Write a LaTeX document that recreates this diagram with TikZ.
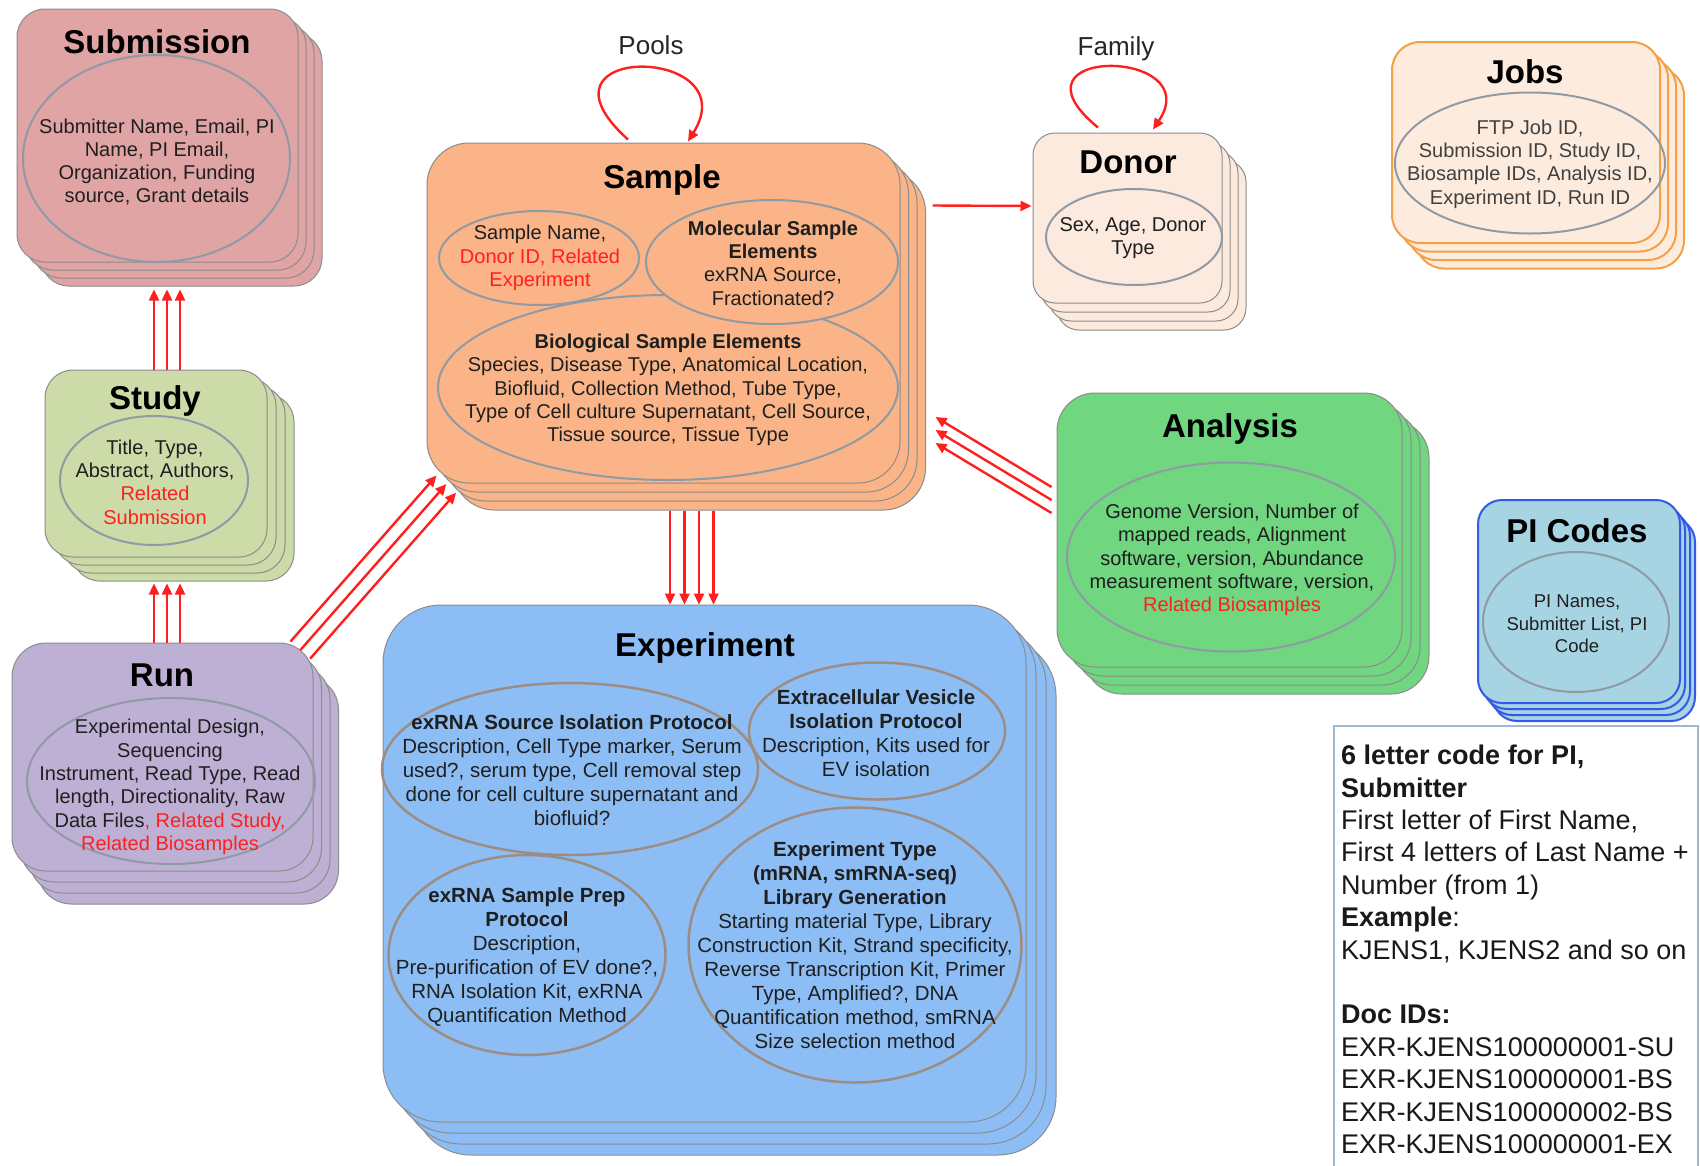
\documentclass[tikz,border=0pt]{standalone}
\usepackage{fontspec}
\setmainfont{Liberation Sans}
\usetikzlibrary{shapes.geometric,arrows.meta,calc}

\definecolor{subpink}{HTML}{E0A4A4}
\definecolor{studygreen}{HTML}{CCDBA8}
\definecolor{runlilac}{HTML}{BEB0D4}
\definecolor{sampleorange}{HTML}{FAB487}
\definecolor{donorpeach}{HTML}{FCEADE}
\definecolor{jobspeach}{HTML}{FDECDE}
\definecolor{jobsline}{HTML}{F5A046}
\definecolor{analysisgreen}{HTML}{70D680}
\definecolor{picyan}{HTML}{A6D4E2}
\definecolor{piblue}{HTML}{325AE6}
\definecolor{expblue}{HTML}{8CBEF5}
\definecolor{ovalgray}{HTML}{8F9AA5}
\definecolor{ovalbrown}{HTML}{9C8C84}
\definecolor{linkred}{HTML}{FF1F1F}
\definecolor{boxblue}{HTML}{9DB7D5}

\newcommand\redtxt[1]{\textcolor{linkred}{#1}}

% a card with three copies stacked behind it
\newcommand\cardstack[8]{%
  \foreach \k in {3,2,1}
    \node[card,#6,minimum width={#4-#2},minimum height={#5-#3}]
      (#1-\k) at ({(#2+#4)/2+\k*#7},{(#3+#5)/2+\k*#8}) {};
  \node[card,#6,minimum width={#4-#2},minimum height={#5-#3}]
    (#1) at ({(#2+#4)/2},{(#3+#5)/2}) {};
}

\tikzset{
  card/.style={draw=black!45, line width=1pt, inner sep=0pt},
  cardtitle/.style={font=\fontsize{33}{36}\selectfont\bfseries, anchor=base, inner sep=0pt},
  body/.style={font=\fontsize{20}{23.3}\selectfont, align=center, text=black!88, inner sep=0pt},
  oval/.style={ellipse, draw=ovalgray, line width=2pt, inner sep=0pt},
  expoval/.style={ellipse, draw=ovalbrown, line width=2.5pt, inner sep=0pt},
  looplabel/.style={font=\fontsize{26}{30}\selectfont, anchor=base, inner sep=0pt, text=black!85},
  link/.style={draw=linkred, line width=2.4pt, -{Triangle[length=11pt,width=10pt]}},
}

\begin{document}
\begin{tikzpicture}[x=1pt,y=-1pt]
\useasboundingbox (0,0) rectangle (1700,1165);
\fill[white] (0,0) rectangle (1700,1165);

% cards
\cardstack{submission}{17}{9}{298}{262}{fill=subpink,rounded corners=28pt}{8}{8}
\cardstack{study}{45}{370}{267}{557}{fill=studygreen,rounded corners=28pt}{9}{8}
\cardstack{run}{12}{643}{313}{871}{fill=runlilac,rounded corners=34pt}{8.5}{11}
\cardstack{sample}{427}{143}{900}{483}{fill=sampleorange,rounded corners=42pt}{8.5}{9}
\cardstack{donor}{1033}{133}{1222}{303}{fill=donorpeach,rounded corners=22pt}{8}{9}
\cardstack{jobs}{1392}{42}{1660}{243}{fill=jobspeach,draw=jobsline,line width=2pt,rounded corners=28pt}{8}{8.5}
\cardstack{analysis}{1057}{393}{1402}{667}{fill=analysisgreen,rounded corners=38pt}{9}{9}
\cardstack{picodes}{1478}{500}{1680}{703}{fill=picyan,draw=piblue,line width=2pt,rounded corners=24pt}{5}{6}
\cardstack{experiment}{383}{605}{1026}{1122}{fill=expblue,rounded corners=58pt}{10}{11}

% titles
\node[cardtitle] (submission-head) at (157,53) {Submission};
\node[cardtitle] (study-head) at (155,409) {Study};
\node[cardtitle] (run-head) at (162,686) {Run};
\node[cardtitle] (sample-head) at (662,188) {Sample};
\node[cardtitle] (donor-head) at (1128,173) {Donor};
\node[cardtitle] (jobs-head) at (1525,83) {Jobs};
\node[cardtitle] (analysis-head) at (1230,437) {Analysis};
\node[cardtitle] (picodes-head) at (1577,542) {PI Codes};
\node[cardtitle] (experiment-head) at (705,656) {Experiment};

% ovals
\node[oval, minimum width=267, minimum height=207] (submission-oval) at (156.5,158.5) {};
\node[oval, minimum width=188, minimum height=129] (study-oval) at (154,480.5) {};
\node[oval, minimum width=288, minimum height=166] (run-oval) at (171,781) {};
\node[oval, minimum width=460, minimum height=185] (bio-oval) at (668,387.5) {};
\node[oval, fill=sampleorange, minimum width=200, minimum height=94] (name-oval) at (539,258) {};
\node[oval, fill=sampleorange, minimum width=252, minimum height=124] (mol-oval) at (772,262) {};
\node[oval, minimum width=176, minimum height=96] (donor-oval) at (1134,237) {};
\node[oval, minimum width=270, minimum height=141] (jobs-oval) at (1530,163) {};
\node[oval, minimum width=328, minimum height=189] (analysis-oval) at (1231,557) {};
\node[oval, minimum width=186, minimum height=140] (picodes-oval) at (1576,622) {};
\node[expoval, minimum width=376, minimum height=172] (source-oval) at (570,769) {};
\node[expoval, minimum width=256, minimum height=137] (vesicle-oval) at (877,731) {};
\node[expoval, minimum width=277, minimum height=200] (prep-oval) at (527,955) {};
\node[expoval, minimum width=333, minimum height=275] (type-oval) at (855,945) {};

% texts
\node[body] (submission-text) at (157,162) {Submitter Name, Email, PI\\Name, PI Email,\\Organization, Funding\\source, Grant details};
\node[body] (study-text) at (155,482) {Title, Type,\\Abstract, Authors,\\\redtxt{Related}\\\redtxt{Submission}};
\node[body] (run-text) at (170,787) {Experimental Design,\\Sequencing\\Instrument, Read Type, Read\\length, Directionality, Raw\\Data Files\redtxt{, Related Study,}\\\redtxt{Related Biosamples}};
\node[body] (name-text) at (540,258) {Sample Name,\\\redtxt{Donor ID, Related}\\\redtxt{Experiment}};
\node[body] (mol-text) at (773,263) {\textbf{Molecular Sample}\\\textbf{Elements}\\exRNA Source,\\Fractionated?};
\node[body] (bio-text) at (668,390) {\textbf{Biological Sample Elements}\\Species, Disease Type, Anatomical Location,\\Biofluid, Collection Method, Tube Type,\\Type of Cell culture Supernatant, Cell Source,\\Tissue source, Tissue Type};
\node[body] (donor-text) at (1133,238) {Sex, Age, Donor\\Type};
\node[body, text=black!75] (jobs-text) at (1530,164) {FTP Job ID,\\Submission ID, Study ID,\\Biosample IDs, Analysis ID,\\Experiment ID, Run ID};
\node[body] (analysis-text) at (1232,560) {Genome Version, Number of\\mapped reads, Alignment\\software, version, Abundance\\measurement software, version,\\\redtxt{Related Biosamples}};
\node[body, font=\fontsize{18.5}{22.5}\selectfont] (picodes-text) at (1577,624) {PI Names,\\Submitter List, PI\\Code};
\node[body, font=\fontsize{20.5}{24}\selectfont] (source-text) at (572,770) {\textbf{exRNA Source Isolation Protocol}\\Description, Cell Type marker, Serum\\used?, serum type, Cell removal step\\done for cell culture supernatant and\\biofluid?};
\node[body, font=\fontsize{20.5}{24}\selectfont] (vesicle-text) at (876,733) {\textbf{Extracellular Vesicle}\\\textbf{Isolation Protocol}\\Description, Kits used for\\EV isolation};
\node[body, font=\fontsize{20.5}{24}\selectfont] (prep-text) at (527,957) {\textbf{exRNA Sample Prep}\\\textbf{Protocol}\\Description,\\Pre-purification of EV done?,\\RNA Isolation Kit, exRNA\\Quantification Method};
\node[body, font=\fontsize{20.5}{24}\selectfont] (type-text) at (855,945) {\textbf{Experiment Type}\\\textbf{(mRNA, smRNA-seq)}\\\textbf{Library Generation}\\Starting material Type, Library\\Construction Kit, Strand specificity,\\Reverse Transcription Kit, Primer\\Type, Amplified?, DNA\\Quantification method, smRNA\\Size selection method};

% code box
\node[draw=boxblue, line width=1.5pt, anchor=north west, minimum width=364, minimum height=445, inner sep=0pt] (codebox) at (1333,725) {};
\node[anchor=north west, align=left, inner sep=0pt, font=\fontsize{27}{32.4}\selectfont, text=black!90] (code-text) at ($(codebox.north west)+(8,20)$)
  {\textbf{6 letter code for PI,}\\\textbf{Submitter}\\First letter of First Name,\\First 4 letters of Last Name +\\Number (from 1)\\\textbf{Example}:\\KJENS1, KJENS2 and so on\\[32.4pt]\textbf{Doc IDs:}\\EXR-KJENS100000001-SU\\EXR-KJENS100000001-BS\\EXR-KJENS100000002-BS\\EXR-KJENS100000001-EX};

% self loops
\node[looplabel] (pools) at (651,54) {Pools};
\node[looplabel] (family) at (1116,55) {Family};
\coordinate (pools-out) at ($(sample.north)+(-35.5,-3)$);
\coordinate (pools-in) at ($(sample.north)+(24.5,-1)$);
\draw[link] (pools-out) .. controls +(-108,-97) and +(60,-97) .. (pools-in);
\coordinate (family-out) at ($(donor.north)+(-29.5,-5)$);
\coordinate (family-in) at ($(donor.north)+(25.5,-3)$);
\draw[link] (family-out) .. controls +(-100,-82) and +(55,-82) .. (family-in);

% links
\foreach \s in {-2,11,24}
  \draw[link] ($(study.north)+(\s,0)$) -- ($(study.north |- submission-3.south)+(\s,3)$);
\foreach \s in {-8.5,4.5,17.5}
  \draw[link] ($(run.north)+(\s,0)$) -- ($(run.north |- study-3.south)+(\s,2)$);
\foreach \k in {0,1,2}
  \draw[link] ($(run.north east)+(-23+9.8*\k,-1+8.6*\k)$) -- ($(sample.south west)+(10+9.8*\k,-8+8.6*\k)$);
\foreach \d in {0,13,26}
  \draw[link] ($(analysis.west)+(-5,-43+\d)$) -- ($(sample.east)+(35,104+\d)$);
\foreach \s in {6.5,21,35.5,50}
  \draw[link] ($(sample.south)+(\s,27)$) -- ($(sample.south |- experiment.north)+(\s,0)$);
\draw[link] ($(sample.north east)+(32,63)$) -- ($(donor.west)+(-1,-12)$);
\end{tikzpicture}
\end{document}
